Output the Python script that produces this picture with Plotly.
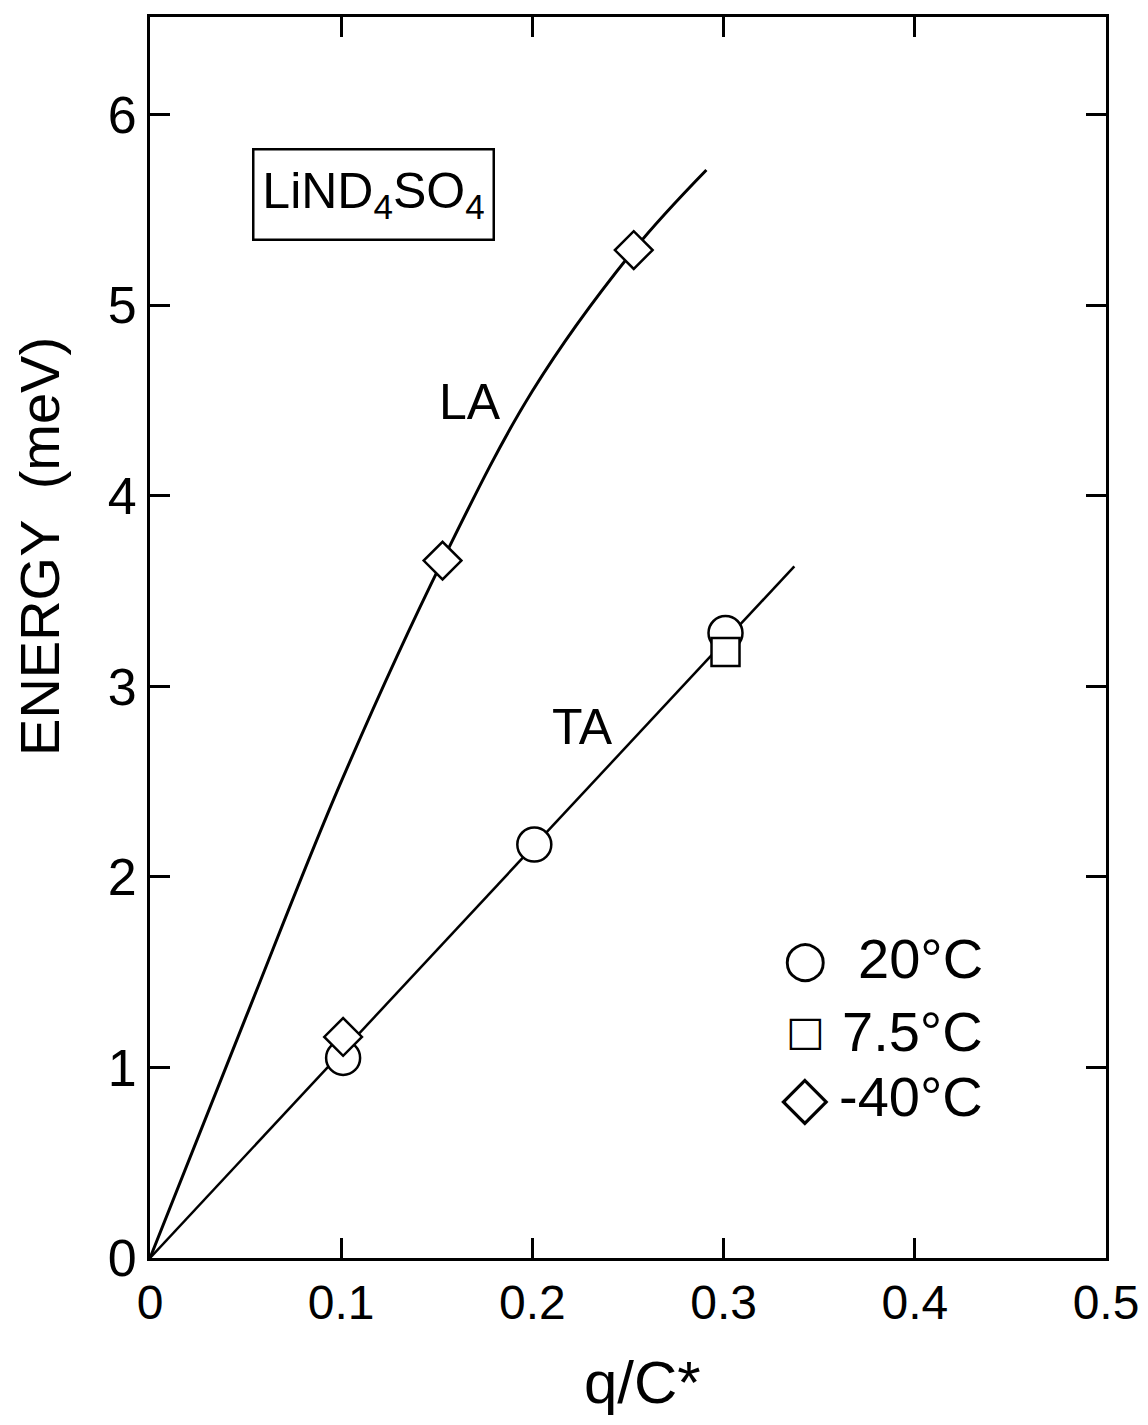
import plotly.graph_objects as go

# ---- data ----
la_curve_q = [0.0, 0.05, 0.1, 0.153, 0.2, 0.253, 0.291]
la_curve_e = [0.0, 1.26, 2.50, 3.66, 4.55, 5.29, 5.71]

ta_line_q = [0.0, 0.337]
ta_line_e = [0.0, 3.63]

t20_q = [0.101, 0.201, 0.301]
t20_e = [1.05, 2.17, 3.28]

t75_q = [0.301]
t75_e = [3.18]

tm40_q = [0.101, 0.153, 0.253]
tm40_e = [1.16, 3.66, 5.29]

legend_labels = ["20°C", "7.5°C", "-40°C"]
legend_glyphs = ["○", "□", "◇"]
legend_glyph_sizes = [51, 41, 62]

x_ticks = [0, 0.1, 0.2, 0.3, 0.4, 0.5]
x_ticklabels = ["0", "0.1", "0.2", "0.3", "0.4", "0.5"]
y_ticks = [0, 1, 2, 3, 4, 5, 6]
y_ticklabels = ["0", "1", "2", "3", "4", "5", "6"]

FONT = "Liberation Sans"

fig = go.Figure()

fig.add_trace(go.Scatter(x=la_curve_q, y=la_curve_e, mode="lines",
                         line=dict(color="black", width=3, shape="spline", smoothing=1.0),
                         name="LA", showlegend=False, hoverinfo="skip"))
fig.add_trace(go.Scatter(x=ta_line_q, y=ta_line_e, mode="lines",
                         line=dict(color="black", width=2.5),
                         name="TA", showlegend=False, hoverinfo="skip"))

mk_line = dict(color="black", width=2.5)
fig.add_trace(go.Scatter(x=t20_q, y=t20_e, mode="markers", name="20°C",
                         marker=dict(symbol="circle", size=34, color="white", line=mk_line),
                         showlegend=False))
fig.add_trace(go.Scatter(x=t75_q, y=t75_e, mode="markers", name="7.5°C",
                         marker=dict(symbol="square", size=28, color="white", line=mk_line),
                         showlegend=False))
fig.add_trace(go.Scatter(x=tm40_q, y=tm40_e, mode="markers", name="-40°C",
                         marker=dict(symbol="diamond", size=29, color="white", line=mk_line),
                         showlegend=False))

# legend drawn as text
legend_rows_y = [1.57, 1.19, 0.85]
for glyph, gsize, lab, yy in zip(legend_glyphs, legend_glyph_sizes, legend_labels, legend_rows_y):
    fig.add_annotation(x=0.3426, y=yy, xref="x", yref="y", text=glyph, showarrow=False,
                       font=dict(family="DejaVu Sans", size=gsize, color="black"),
                       xanchor="center", yanchor="middle")
    fig.add_annotation(x=0.4367, y=yy, xref="x", yref="y", text=lab, showarrow=False,
                       font=dict(family=FONT, size=56, color="black"),
                       xanchor="right", yanchor="middle")

# curve labels
fig.add_annotation(x=0.1674, y=4.49, xref="x", yref="y", text="LA", showarrow=False,
                   font=dict(family=FONT, size=50, color="black"))
fig.add_annotation(x=0.226, y=2.785, xref="x", yref="y", text="TA", showarrow=False,
                   font=dict(family=FONT, size=50, color="black"))

# compound box
fig.add_annotation(x=0.117, y=5.58, xref="x", yref="y",
                   text="LiND<sub>4</sub>SO<sub>4</sub>",
                   showarrow=False,
                   font=dict(family=FONT, size=50, color="black"),
                   bordercolor="black", borderwidth=2.5, borderpad=8,
                   width=222, height=72, bgcolor="white")

# axis titles
fig.add_annotation(x=-0.115, y=0.573, xref="paper", yref="paper",
                   text="ENERGY  (meV)", textangle=-90, showarrow=False,
                   font=dict(family=FONT, size=56, color="black"),
                   xanchor="center", yanchor="middle")
fig.add_annotation(x=0.515, y=-0.1, xref="paper", yref="paper",
                   text="q/C*", showarrow=False,
                   font=dict(family=FONT, size=60, color="black"),
                   xanchor="center", yanchor="middle")

axis_common = dict(showgrid=False, zeroline=False, showline=True, linecolor="black",
                   linewidth=3, mirror="ticks", ticks="inside", ticklen=20, tickwidth=2.5,
                   tickcolor="black")

fig.update_xaxes(range=[0, 0.5], tickvals=x_ticks, ticktext=x_ticklabels,
                 ticklabelstandoff=0,
                 tickfont=dict(family=FONT, size=48, color="black"), **axis_common)
fig.update_yaxes(range=[0, 6.513], tickvals=y_ticks, ticktext=y_ticklabels,
                 ticklabelstandoff=0,
                 tickfont=dict(family=FONT, size=52, color="black"), **axis_common)

fig.update_layout(width=1140, height=1417,
                  margin=dict(l=142, r=42, t=6, b=167),
                  paper_bgcolor="white", plot_bgcolor="white",
                  showlegend=False)

fig.write_html("out.html")
